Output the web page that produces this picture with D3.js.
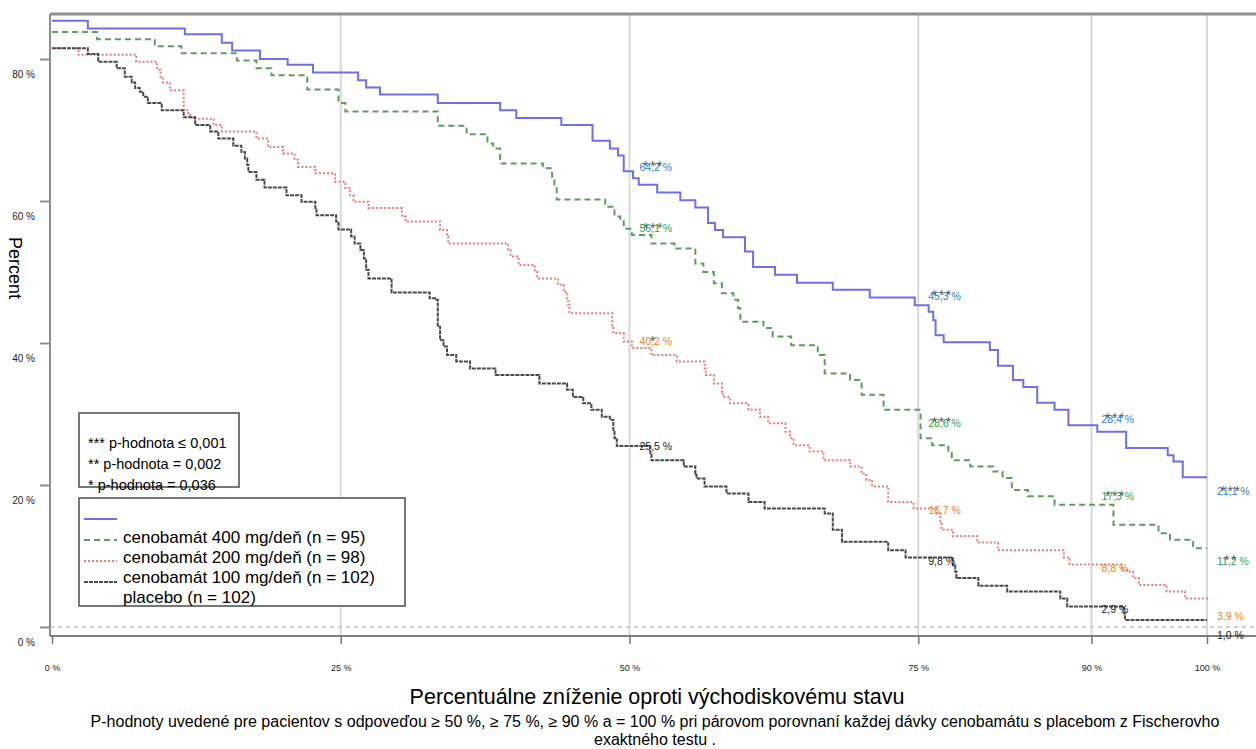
<!DOCTYPE html>
<html>
<head>
<meta charset="utf-8">
<script src="https://cdn.jsdelivr.net/npm/d3@7"></script>
<style>
  body { margin: 0; background: #fff; }
  svg { display: block; font-family: "Liberation Sans", Arial, sans-serif; }
</style>
</head>
<body>
<script>
// axis ticks
const reductionTicks = [0, 25, 50, 75, 90, 100];
const percentTicks = [0, 20, 40, 60, 80];

// responder curves: [reduction %, percent of patients] (step after)
const steps400 = [[0,85.4],[3.1,84.3],[11.5,83.5],[14.7,82.3],[15.6,81.2],[18.0,80.0],[20.4,79.2],[22.6,78.1],
  [26.5,77.0],[27.2,76.0],[28.4,75.0],[33.4,73.8],[38.8,72.8],[40.2,71.7],[44.1,70.7],[46.8,68.5],[48.3,67.4],
  [49.0,66.4],[49.5,64.2],[50.3,63.2],[50.8,62.3],[52.4,61.2],[54.4,60.1],[55.7,59.1],[56.8,56.9],[57.4,55.9],
  [58.1,54.9],[60.0,52.9],[60.7,50.7],[62.6,49.6],[64.5,48.5],[67.6,47.5],[70.8,46.4],[74.7,45.3],[75.9,44.4],
  [76.3,43.2],[76.5,41.1],[77.2,40.1],[81.2,39.0],[81.9,36.8],[83.2,34.8],[84.1,33.8],[85.3,31.6],[86.8,30.6],
  [88.0,28.4],[90.5,27.5],[93.0,25.2],[96.6,24.2],[97.1,23.3],[97.9,21.1],[100,21.1]];
const steps200 = [[0,83.8],[3.9,82.8],[8.9,81.8],[11.2,80.8],[16.0,79.8],[17.7,78.7],[19.0,77.7],[22.1,75.7],
  [24.8,73.8],[25.4,72.6],[33.4,70.6],[35.9,69.4],[37.7,68.1],[38.2,67.4],[38.8,65.3],[42.5,64.6],[43.3,63.4],
  [43.5,62.0],[43.7,60.2],[47.9,59.2],[48.7,57.8],[49.2,57.3],[49.5,56.1],[50.2,55.2],[51.9,54.0],[53.9,53.3],
  [55.7,51.2],[56.4,50.0],[57.3,48.4],[58.0,47.0],[59.0,46.1],[59.4,44.9],[59.6,43.0],[61.6,42.1],[62.4,40.9],
  [64.0,39.7],[66.3,38.3],[66.9,35.7],[69.1,34.8],[70.1,32.7],[72.0,30.6],[75.2,26.6],[76.2,25.6],[77.6,24.5],
  [77.9,23.5],[79.5,22.6],[81.5,21.9],[82.3,21.0],[83.1,19.3],[84.5,18.4],[86.8,17.2],[91.9,14.4],[95.8,13.2],
  [96.8,12.3],[98.8,11.1],[100,11.1]];
const steps100 = [[0,81.5],[2.3,80.6],[7.3,79.6],[9.1,78.5],[9.4,77.5],[9.6,76.7],[10.2,75.6],[11.4,72.8],
  [11.8,72.1],[12.1,71.6],[14.0,70.7],[14.7,69.8],[17.7,68.8],[18.7,67.6],[20.0,66.7],[21.0,65.8],[21.3,64.8],
  [22.8,63.9],[24.5,62.7],[25.4,61.8],[25.8,60.8],[26.1,59.9],[27.4,59.0],[30.3,57.8],[30.6,57.1],[33.6,55.9],
  [34.2,55.0],[34.3,54.0],[39.5,53.1],[39.7,52.2],[40.4,51.0],[41.8,50.0],[42.0,49.1],[43.8,48.2],[44.3,47.2],
  [44.6,46.3],[44.7,45.4],[44.8,44.2],[48.5,42.1],[48.6,41.4],[49.5,40.2],[50.2,39.3],[51.9,38.3],[54.1,37.4],
  [56.5,36.4],[56.6,35.5],[57.3,34.3],[58.0,33.1],[58.1,32.4],[58.7,31.5],[60.3,30.6],[61.3,29.6],[62.0,28.7],
  [63.5,27.5],[63.9,26.6],[64.2,25.6],[65.6,24.7],[66.8,23.5],[69.1,22.6],[70.1,21.6],[70.5,20.7],[71.0,19.8],
  [72.4,17.6],[74.6,16.7],[76.6,16.0],[76.9,14.6],[77.0,13.7],[78.0,12.8],[80.1,11.9],[81.9,10.8],[87.6,9.8],
  [88.1,8.8],[92.6,8.0],[93.3,7.8],[93.6,6.9],[94.1,5.9],[96.5,5.0],[98.1,4.0],[100,3.9]];
const stepsPlacebo = [[0,81.5],[3.1,80.7],[4.0,79.6],[5.6,78.7],[6.3,77.5],[6.9,76.7],[7.2,75.9],[7.6,75.4],
  [7.9,74.7],[8.3,73.8],[9.5,72.8],[11.4,71.8],[12.4,70.7],[13.7,69.8],[14.4,68.8],[15.7,67.8],[16.4,66.9],
  [16.7,66.0],[16.9,65.1],[17.0,64.1],[17.7,63.0],[18.4,61.9],[20.3,60.8],[21.6,59.9],[22.8,59.0],[22.9,58.0],
  [24.6,57.1],[24.8,56.0],[25.9,55.0],[26.2,54.0],[26.7,53.1],[27.0,51.9],[27.2,50.3],[27.4,49.1],[29.4,47.1],
  [32.7,46.3],[33.3,46.1],[33.4,42.3],[33.6,40.4],[33.9,39.5],[34.2,38.3],[35.0,37.4],[36.2,36.4],[38.4,35.5],
  [42.2,34.3],[44.6,33.4],[45.1,32.4],[46.0,31.5],[46.7,30.6],[47.6,29.6],[48.3,29.2],[48.6,27.5],[48.7,26.6],
  [48.9,25.5],[51.8,24.5],[51.9,23.5],[54.7,22.6],[55.7,21.6],[55.8,20.9],[56.5,19.8],[58.4,18.8],[60.3,17.6],
  [61.7,16.7],[66.9,16.0],[67.6,13.7],[68.4,12.0],[72.4,10.8],[73.9,9.8],[78.0,8.7],[78.2,7.8],[78.3,6.9],
  [80.2,5.8],[82.7,5.0],[87.3,4.0],[87.9,2.9],[92.8,1.9],[92.9,1.0],[100,1.0]];

// responder rates and significance marks at each threshold (400, 200, 100, placebo)
const rates50 = [64.2, 56.1, 40.2, 25.5];
const rates75 = [45.3, 28.6, 16.7, 9.8];
const rates90 = [28.4, 17.3, 8.8, 2.9];
const rates100 = [21.1, 11.2, 3.9, 1.0];
const stars50 = ["***", "***", "*", ""];
const stars75 = ["***", "***", "", ""];
const stars90 = ["***", "***", "", ""];
const stars100 = ["***", "**", "", ""];

const legendLabels = ["", "cenobamát 400 mg/deň (n = 95)", "cenobamát 200 mg/deň (n = 98)",
  "cenobamát 100 mg/deň (n = 102)", "placebo (n = 102)"];
const pValueNotes = ["*** p-hodnota ≤ 0,001", "** p-hodnota = 0,002", "* p-hodnota = 0,036"];

// ---- layout / styles ----
const W = 1256, H = 749;
const frame = {left: 50, right: 1256, top: 14, bottom: 636};
const lineStyles = [
  {color: "#6f6fe6", dash: null},
  {color: "#5f9c5f", dash: "6,4"},
  {color: "#ee7a7a", dash: "2,2"},
  {color: "#4a4a4a", dash: "4,1"}
];
const labelColors = ["#2a7fd4", "#1fa552", "#f0821e", "#1a1a1a"];
// vertical nudge of each value label (px) per threshold
const labelNudge = {50: [-4, 0, 0, 0], 75: [-9, -1, 2, 4], 90: [-6, -7.5, 4, 3], 100: [14.5, 13.5, 17, 15]};

const series = [steps400, steps200, steps100, stepsPlacebo];
const annotations = [
  {t: 50, rates: rates50, stars: stars50},
  {t: 75, rates: rates75, stars: stars75},
  {t: 90, rates: rates90, stars: stars90},
  {t: 100, rates: rates100, stars: stars100}
];

const fmt = v => d3.format(".1f")(v).replace(".", ",") + " %";

const svg = d3.select("body").append("svg")
  .attr("width", W)
  .attr("height", H);

const xScale = d3.scaleLinear().domain([0, 100]).range([52, 1207]);
const yScale = d3.scaleLinear().domain([-1.27, 86.34]).range([frame.bottom, frame.top]);

// vertical grid lines
svg.append("g").selectAll("line")
  .data(reductionTicks.filter(d => d > 0))
  .enter().append("line")
  .attr("x1", d => xScale(d)).attr("x2", d => xScale(d))
  .attr("y1", frame.top).attr("y2", frame.bottom)
  .attr("stroke", "#d8d8d8").attr("stroke-width", 2);

// dashed reference at 0 %
svg.append("line")
  .attr("x1", frame.left).attr("x2", frame.right)
  .attr("y1", yScale(0)).attr("y2", yScale(0))
  .attr("stroke", "#cfcfcf").attr("stroke-width", 2)
  .attr("stroke-dasharray", "4,4");

// step curves
const line = d3.line()
  .x(d => xScale(d[0]))
  .y(d => yScale(d[1]))
  .curve(d3.curveStepAfter);

svg.append("g").selectAll("path")
  .data(series)
  .enter().append("path")
  .attr("d", line)
  .attr("fill", "none")
  .attr("stroke", (d, i) => lineStyles[i].color)
  .attr("stroke-width", 2)
  .attr("stroke-dasharray", (d, i) => lineStyles[i].dash);

// frame
svg.append("line").attr("x1", frame.left).attr("x2", frame.right)
  .attr("y1", frame.top).attr("y2", frame.top)
  .attr("stroke", "#8f8f8f").attr("stroke-width", 3);
svg.append("line").attr("x1", frame.left).attr("x2", frame.left)
  .attr("y1", frame.top).attr("y2", frame.bottom)
  .attr("stroke", "#8f8f8f").attr("stroke-width", 2);
svg.append("line").attr("x1", frame.left).attr("x2", frame.right)
  .attr("y1", frame.bottom).attr("y2", frame.bottom)
  .attr("stroke", "#555").attr("stroke-width", 1.5);

// x axis
const xAxis = svg.append("g")
  .attr("transform", `translate(0,${frame.bottom})`)
  .call(d3.axisBottom(xScale).tickValues(reductionTicks)
    .tickFormat(d => d + " %").tickSize(8).tickSizeOuter(0).tickPadding(21));
xAxis.select(".domain").remove();
xAxis.selectAll(".tick line").attr("stroke", "#777").attr("stroke-width", 1.5);
xAxis.selectAll(".tick text").attr("font-size", 9).attr("fill", "#222")
  .attr("font-family", "Liberation Sans, Arial, sans-serif");

// y axis
const yAxis = svg.append("g")
  .attr("transform", `translate(${frame.left},0)`)
  .call(d3.axisLeft(yScale).tickValues(percentTicks)
    .tickFormat(d => d + " %").tickSize(10).tickSizeOuter(0).tickPadding(5));
yAxis.select(".domain").remove();
yAxis.selectAll(".tick line").attr("stroke", "#8f8f8f").attr("stroke-width", 2);
yAxis.selectAll(".tick text").attr("font-size", 10).attr("fill", "#222")
  .attr("y", 15)
  .attr("font-family", "Liberation Sans, Arial, sans-serif");

// axis titles
svg.append("text")
  .attr("transform", "translate(15,268) rotate(90)")
  .attr("dy", "0.35em")
  .attr("text-anchor", "middle")
  .attr("font-size", 18)
  .text("Percent");

svg.append("text")
  .attr("x", 657).attr("y", 704)
  .attr("text-anchor", "middle")
  .attr("font-size", 21.5)
  .text("Percentuálne zníženie oproti východiskovému stavu");

svg.append("text")
  .attr("x", 655).attr("y", 727)
  .attr("text-anchor", "middle")
  .attr("font-size", 16)
  .text("P-hodnoty uvedené pre pacientov s odpoveďou ≥ 50 %, ≥ 75 %, ≥ 90 % a = 100 % pri párovom porovnaní každej dávky cenobamátu s placebom z Fischerovho");
svg.append("text")
  .attr("x", 655).attr("y", 745)
  .attr("text-anchor", "middle")
  .attr("font-size", 16)
  .text("exaktného testu .");

// value labels and significance marks
const ann = svg.append("g");
annotations.forEach(a => {
  a.rates.forEach((v, i) => {
    const cx = xScale(a.t) + 10;
    const cy = yScale(v) + labelNudge[a.t][i];
    ann.append("text")
      .attr("x", cx).attr("y", cy).attr("dy", "0.35em")
      .attr("font-size", 10.5)
      .attr("fill", labelColors[i])
      .text(fmt(v));
    if (a.stars[i]) {
      ann.append("text")
        .attr("x", cx + 14).attr("y", cy - 4 + 8)
        .attr("text-anchor", "middle")
        .attr("font-size", 14)
        .attr("letter-spacing", 1.5)
        .attr("fill", "#3a3a3a")
        .attr("opacity", 0.85)
        .text(a.stars[i]);
    }
  });
});

// p-value box
svg.append("rect")
  .attr("x", 79).attr("y", 413).attr("width", 160).attr("height", 74)
  .attr("fill", "#fff").attr("stroke", "#777").attr("stroke-width", 2);
svg.append("g").selectAll("text")
  .data(pValueNotes)
  .enter().append("text")
  .attr("x", 88)
  .attr("y", (d, i) => 443 + i * 21)
  .attr("dy", "0.35em")
  .attr("font-size", 14.5)
  .text(d => d);

// series legend (rows as in source)
svg.append("rect")
  .attr("x", 79).attr("y", 498).attr("width", 326).attr("height", 108)
  .attr("fill", "#fff").attr("stroke", "#777").attr("stroke-width", 2);
svg.append("g").selectAll("line")
  .data(lineStyles)
  .enter().append("line")
  .attr("x1", 84).attr("x2", 117)
  .attr("y1", (d, i) => 519 + i * 21).attr("y2", (d, i) => 519 + i * 21)
  .attr("stroke", d => d.color).attr("stroke-width", 2)
  .attr("stroke-dasharray", d => d.dash);
svg.append("g").selectAll("text")
  .data(legendLabels)
  .enter().append("text")
  .attr("x", 123)
  .attr("y", (d, i) => 516.5 + i * 20.2)
  .attr("dy", "0.35em")
  .attr("font-size", 17)
  .text(d => d);
</script>
</body>
</html>
